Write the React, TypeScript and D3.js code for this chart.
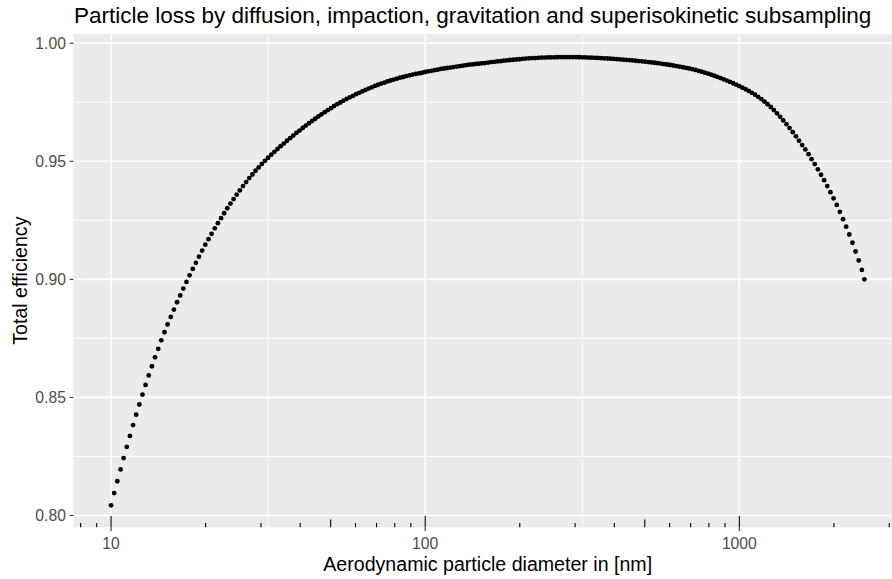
import React from "react";
import * as d3 from "d3";

const diameters = [
  10, 10.23, 10.47, 10.72, 10.96, 11.22, 11.48, 11.75, 12.02, 12.3,
  12.59, 12.88, 13.18, 13.49, 13.8, 14.13, 14.45, 14.79, 15.14, 15.49,
  15.85, 16.22, 16.6, 16.98, 17.38, 17.78, 18.2, 18.62, 19.05, 19.5,
  19.95, 20.42, 20.89, 21.38, 21.88, 22.39, 22.91, 23.44, 23.99, 24.55,
  25.12, 25.7, 26.3, 26.92, 27.54, 28.18, 28.84, 29.51, 30.2, 30.9,
  31.62, 32.36, 33.11, 33.88, 34.67, 35.48, 36.31, 37.15, 38.02, 38.9,
  39.81, 40.74, 41.69, 42.66, 43.65, 44.67, 45.71, 46.77, 47.86, 48.98,
  50.12, 51.29, 52.48, 53.7, 54.95, 56.23, 57.54, 58.88, 60.26, 61.66,
  63.1, 64.57, 66.07, 67.61, 69.18, 70.79, 72.44, 74.13, 75.86, 77.62,
  79.43, 81.28, 83.18, 85.11, 87.1, 89.13, 91.2, 93.33, 95.5, 97.72,
  100, 102.3, 104.7, 107.2, 109.6, 112.2, 114.8, 117.5, 120.2, 123,
  125.9, 128.8, 131.8, 134.9, 138, 141.3, 144.5, 147.9, 151.4, 154.9,
  158.5, 162.2, 166, 169.8, 173.8, 177.8, 182, 186.2, 190.5, 195,
  199.5, 204.2, 208.9, 213.8, 218.8, 223.9, 229.1, 234.4, 239.9, 245.5,
  251.2, 257, 263, 269.2, 275.4, 281.8, 288.4, 295.1, 302, 309,
  316.2, 323.6, 331.1, 338.8, 346.7, 354.8, 363.1, 371.5, 380.2, 389,
  398.1, 407.4, 416.9, 426.6, 436.5, 446.7, 457.1, 467.7, 478.6, 489.8,
  501.2, 512.9, 524.8, 537, 549.5, 562.3, 575.4, 588.8, 602.6, 616.6,
  631, 645.7, 660.7, 676.1, 691.8, 707.9, 724.4, 741.3, 758.6, 776.2,
  794.3, 812.8, 831.8, 851.1, 871, 891.3, 912, 933.3, 955, 977.2,
  1000, 1023, 1047, 1072, 1096, 1122, 1148, 1175, 1202, 1230,
  1259, 1288, 1318, 1349, 1380, 1413, 1445, 1479, 1514, 1549,
  1585, 1622, 1660, 1698, 1738, 1778, 1820, 1862, 1905, 1950,
  1995, 2042, 2089, 2138, 2188, 2239, 2291, 2344, 2399, 2455,
  2500,
];

const efficiency = [
  0.8043, 0.8095, 0.8145, 0.8195, 0.8243, 0.8291, 0.8337, 0.8383, 0.8427, 0.847,
  0.8512, 0.8553, 0.8593, 0.8632, 0.867, 0.8706, 0.8742, 0.8776, 0.8809, 0.8841,
  0.8872, 0.8903, 0.8932, 0.8961, 0.8989, 0.9017, 0.9044, 0.907, 0.9096, 0.9122,
  0.9147, 0.917, 0.9193, 0.9216, 0.9238, 0.9259, 0.928, 0.9301, 0.9321, 0.934,
  0.9359, 0.9377, 0.9395, 0.9412, 0.9429, 0.9444, 0.946, 0.9474, 0.9489, 0.9502,
  0.9515, 0.9528, 0.954, 0.9552, 0.9564, 0.9575, 0.9587, 0.9598, 0.9609, 0.962,
  0.963, 0.9641, 0.9651, 0.9661, 0.9671, 0.968, 0.969, 0.9699, 0.9708, 0.9717,
  0.9725, 0.9734, 0.9742, 0.9749, 0.9757, 0.9764, 0.9771, 0.9777, 0.9784, 0.979,
  0.9796, 0.9802, 0.9808, 0.9813, 0.9819, 0.9824, 0.9829, 0.9833, 0.9838, 0.9842,
  0.9846, 0.985, 0.9854, 0.9857, 0.9861, 0.9864, 0.9867, 0.987, 0.9872, 0.9875,
  0.9878, 0.9881, 0.9883, 0.9886, 0.9888, 0.9891, 0.9893, 0.9895, 0.9897, 0.9899,
  0.9901, 0.9903, 0.9905, 0.9907, 0.9909, 0.991, 0.9912, 0.9913, 0.9915, 0.9916,
  0.9918, 0.992, 0.9921, 0.9923, 0.9924, 0.9926, 0.9927, 0.9929, 0.993, 0.9931,
  0.9932, 0.9934, 0.9935, 0.9936, 0.9937, 0.9937, 0.9938, 0.9939, 0.9939, 0.994,
  0.994, 0.99403, 0.99406, 0.99408, 0.99409, 0.9941, 0.9941, 0.9941, 0.99408, 0.99406,
  0.99402, 0.99398, 0.99393, 0.99387, 0.99381, 0.99375, 0.99368, 0.9936, 0.99352, 0.99343,
  0.99334, 0.99325, 0.99315, 0.99304, 0.99293, 0.99282, 0.9927, 0.99258, 0.99245, 0.99231,
  0.99218, 0.99203, 0.99188, 0.99172, 0.99155, 0.99137, 0.99118, 0.99098, 0.99077, 0.99055,
  0.99032, 0.99008, 0.98983, 0.98957, 0.98929, 0.98899, 0.98868, 0.98832, 0.98794, 0.98754,
  0.98712, 0.98668, 0.98622, 0.98574, 0.98524, 0.98472, 0.98418, 0.98362, 0.98304, 0.98244,
  0.98182, 0.98118, 0.9805, 0.97978, 0.97901, 0.97819, 0.9773, 0.97634, 0.9753, 0.97418,
  0.97298, 0.97168, 0.9703, 0.96884, 0.96731, 0.96571, 0.96405, 0.96233, 0.96055, 0.95871,
  0.95685, 0.955, 0.953, 0.9509, 0.9488, 0.9466, 0.9443, 0.942, 0.9395, 0.9369,
  0.9343, 0.9315, 0.9286, 0.9255, 0.9223, 0.919, 0.9155, 0.9118, 0.908, 0.904,
  0.9,
];

const yTicks = [0.8, 0.85, 0.9, 0.95, 1.0];
const yMinorTicks = [0.825, 0.875, 0.925, 0.975];
const xTicks = [10, 100, 1000];
const xMinorTicks = [31.62, 316.2, 3162];
const logDecades = [1, 10, 100, 1000];
const logMultipliers = [1, 2, 3, 4, 5, 6, 7, 8, 9];

const titleText =
  "Particle loss by diffusion, impaction, gravitation and superisokinetic subsampling";
const xLabel = "Aerodynamic particle diameter in [nm]";
const yLabel = "Total efficiency";

const FONT = "'Liberation Sans', Arial, Helvetica, sans-serif";

export default function App() {
  const W = 892;
  const H = 579;
  const left = 73.4;
  const right = 902;
  const top = 34;
  const bottom = 527.3;

  const x = d3
    .scaleLog()
    .domain([Math.pow(10, 0.8801), Math.pow(10, 3.5178)])
    .range([left, right]);
  const y = d3.scaleLinear().domain([0.795, 1.0039]).range([bottom, top]);

  const [dMin, dMax] = x.domain();
  const logTicks: { v: number; len: number }[] = [];
  logDecades.forEach((dec) =>
    logMultipliers.forEach((m) => {
      const v = dec * m;
      if (v >= dMin && v <= dMax) {
        logTicks.push({ v, len: m === 1 ? 11.3 : m === 5 ? 7.8 : 4.3 });
      }
    })
  );

  const fmt = d3.format(".2f");

  return (
    <svg
      width={W}
      height={H}
      style={{ position: "absolute", left: 0, top: 0, background: "#fff" }}
      fontFamily={FONT}
    >
      <rect x={0} y={0} width={W} height={H} fill="#ffffff" />
      <rect x={left} y={top} width={right - left} height={bottom - top} fill="#EBEBEB" />
      {yMinorTicks.map((v) => (
        <line key={"ym" + v} x1={left} x2={right} y1={y(v)} y2={y(v)} stroke="#fff" strokeWidth={0.9} />
      ))}
      {xMinorTicks.map((v) => (
        <line key={"xm" + v} x1={x(v)} x2={x(v)} y1={top} y2={bottom} stroke="#fff" strokeWidth={0.9} />
      ))}
      {yTicks.map((v) => (
        <line key={"yg" + v} x1={left} x2={right} y1={y(v)} y2={y(v)} stroke="#fff" strokeWidth={1.6} />
      ))}
      {xTicks.map((v) => (
        <line key={"xg" + v} x1={x(v)} x2={x(v)} y1={top} y2={bottom} stroke="#fff" strokeWidth={1.6} />
      ))}
      {diameters.map((d, i) => (
        <circle key={"p" + i} cx={x(d)} cy={y(efficiency[i])} r={2.4} fill="#000" />
      ))}
      {logTicks.map((t) => (
        <line
          key={"lt" + t.v}
          x1={x(t.v)}
          x2={x(t.v)}
          y1={bottom}
          y2={bottom - t.len}
          stroke="#000"
          strokeWidth={1.1}
        />
      ))}
      {yTicks.map((v) => (
        <g key={"yt" + v}>
          <line x1={left - 3.8} x2={left} y1={y(v)} y2={y(v)} stroke="#333333" strokeWidth={1.1} />
          <text x={left - 7.5} y={y(v) + 5.6} textAnchor="end" fontSize={15.7} fill="#4D4D4D">
            {fmt(v)}
          </text>
        </g>
      ))}
      {xTicks.map((v) => (
        <g key={"xt" + v}>
          <line x1={x(v)} x2={x(v)} y1={bottom} y2={bottom + 3.8} stroke="#333333" strokeWidth={1.1} />
          <text x={x(v)} y={549.3} textAnchor="middle" fontSize={15.7} fill="#4D4D4D">
            {String(v)}
          </text>
        </g>
      ))}
      <text x={(left + right) / 2} y={570.5} textAnchor="middle" fontSize={19.6} fill="#000">
        {xLabel}
      </text>
      <text
        transform={`translate(26.7, ${(top + bottom) / 2}) rotate(-90)`}
        textAnchor="middle"
        fontSize={19.6}
        fill="#000"
      >
        {yLabel}
      </text>
      <text x={left + 0.5} y={23} fontSize={22.5} fill="#000">
        {titleText}
      </text>
    </svg>
  );
}
